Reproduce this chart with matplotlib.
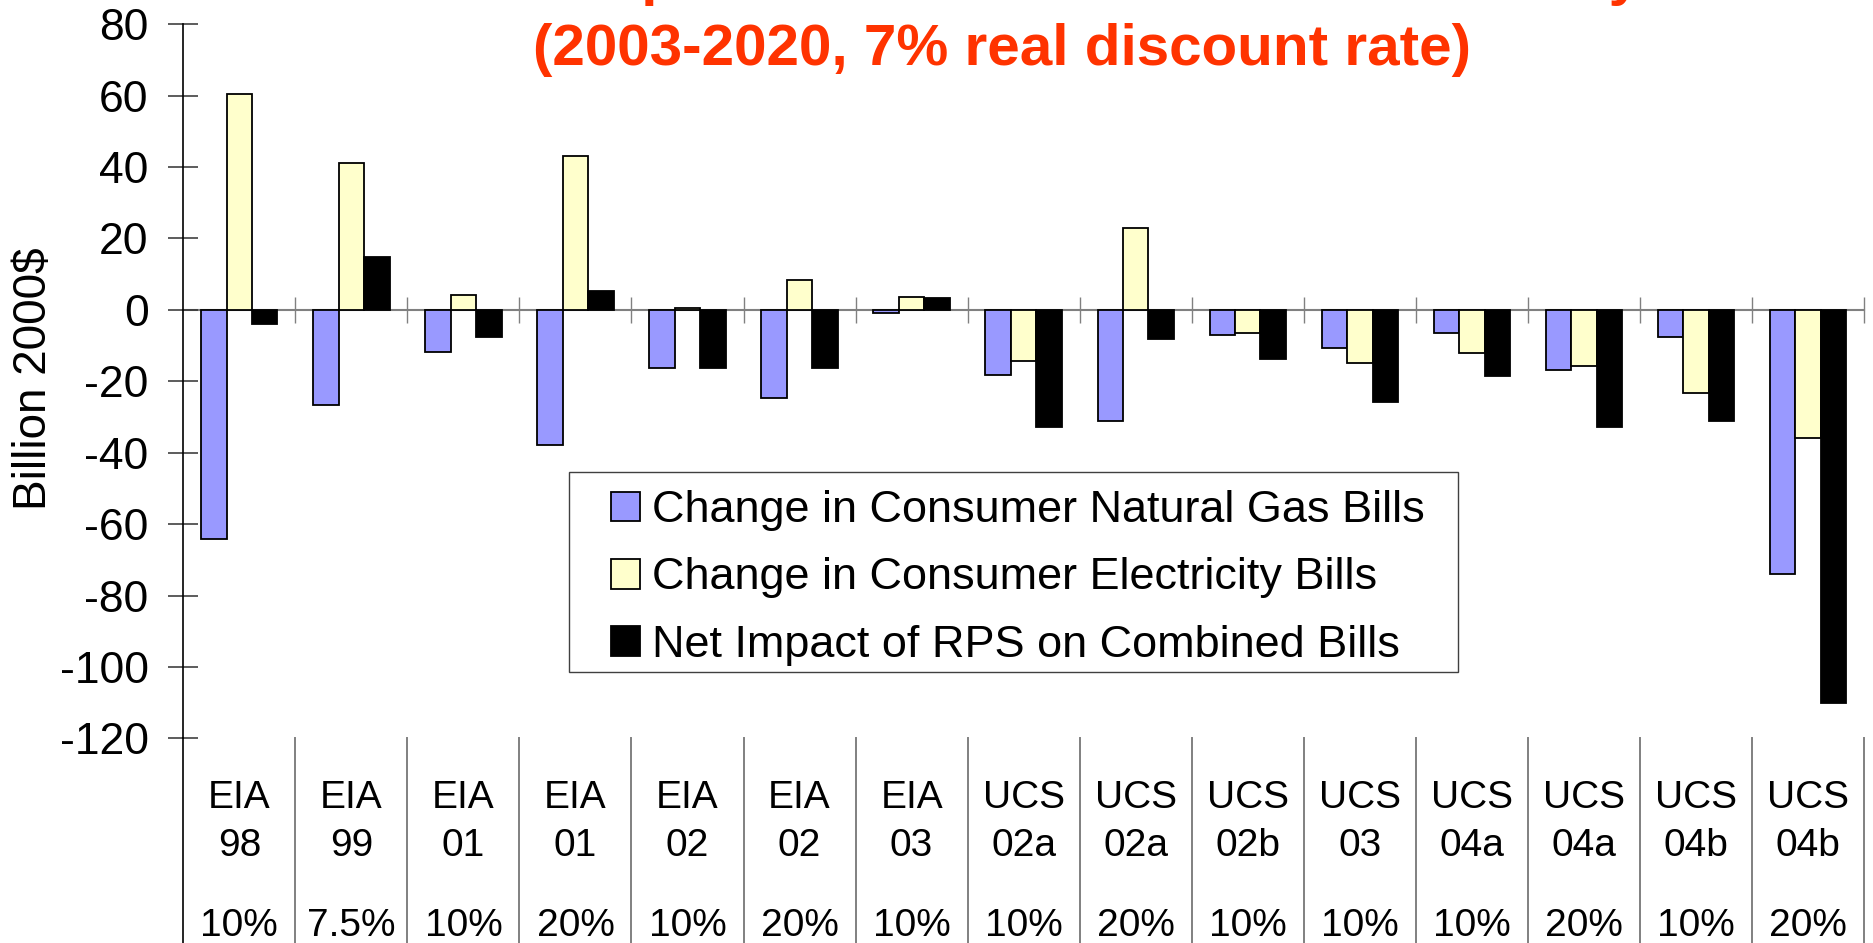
import numpy as np
import matplotlib
matplotlib.use("Agg")
import matplotlib.pyplot as plt
from matplotlib.patches import Rectangle, Patch
from matplotlib.transforms import blended_transform_factory

plt.rcParams['font.family'] = ['Liberation Sans', 'DejaVu Sans']
plt.rcParams['axes.unicode_minus'] = False

# ---- data ----
cat_source = ["EIA", "EIA", "EIA", "EIA", "EIA", "EIA", "EIA",
              "UCS", "UCS", "UCS", "UCS", "UCS", "UCS", "UCS", "UCS"]
cat_study = ["98", "99", "01", "01", "02", "02", "03",
             "02a", "02a", "02b", "03", "04a", "04a", "04b", "04b"]
cat_target = ["10%", "7.5%", "10%", "20%", "10%", "20%", "10%",
              "10%", "20%", "10%", "10%", "10%", "20%", "10%", "20%"]
gas = [-64.2, -26.6, -11.7, -37.9, -16.2, -24.6, -0.75,
       -18.2, -31.0, -7.0, -10.8, -6.4, -16.8, -7.6, -73.9]
elec = [60.4, 41.1, 4.1, 43.0, 0.4, 8.4, 3.6,
        -14.4, 22.9, -6.5, -15.0, -12.0, -15.6, -23.2, -36.0]
net = [-4.0, 14.8, -7.7, 5.4, -16.2, -16.2, 3.4,
       -32.8, -8.1, -13.8, -25.9, -18.6, -32.8, -31.1, -110.0]
series_labels = ["Change in Consumer Natural Gas Bills",
                 "Change in Consumer Electricity Bills",
                 "Net Impact of RPS on Combined Bills"]
title_line1 = "Consumer Impacts on Natural Gas and Electricity Bills"
title_line2 = "(2003-2020, 7% real discount rate)"
y_label = "Billion 2000$"
y_ticks = [80, 60, 40, 20, 0, -20, -40, -60, -80, -100, -120]

# ---- figure ----
W, H = 1874, 943
fig = plt.figure(figsize=(W / 100, H / 100), dpi=100)
ax_left, ax_right = 183.3 / W, 1864.0 / W
ax_top, ax_bot = 1 - 24.3 / H, 1 - 738.3 / H
ax = fig.add_axes([ax_left, ax_bot, ax_right - ax_left, ax_top - ax_bot])

colors = ['#9999FF', '#FFFFCC', '#000000']
n = len(cat_study)
x = np.arange(n)
w = 0.227
for i, (vals, c) in enumerate(zip([gas, elec, net], colors)):
    ax.bar(x + (i - 1) * w, vals, w, color=c, edgecolor='black',
           linewidth=1.3, zorder=2)

ax.set_xlim(-0.5, n - 0.5)
ax.set_ylim(-120, 80)
ax.set_yticks(y_ticks)
ax.tick_params(axis='y', direction='inout', length=20.9, width=1.1,
               color='#303030', pad=14.5, labelsize=32)

# zero line as bottom spine
for s in ['top', 'right']:
    ax.spines[s].set_visible(False)
ax.spines['bottom'].set_position(('data', 0))
ax.spines['bottom'].set_color('#808080')
ax.spines['bottom'].set_linewidth(1.5)
ax.spines['bottom'].set_zorder(1)
ax.spines['left'].set_color('black')
ax.spines['left'].set_linewidth(1.2)
bounds = np.arange(n + 1) - 0.5
ax.set_xticks(bounds[1:])
ax.tick_params(axis='x', direction='inout', length=18.7, width=1.0,
               color='#808080', labelbottom=False)

# category separators below the axes
trans = blended_transform_factory(ax.transData, fig.transFigure)
for j, b in enumerate(bounds):
    ax.plot([b, b], [0, ax_bot], transform=trans, clip_on=False,
            color='black' if j == 0 else '#808080',
            lw=1.2 if j == 0 else 1.4)

# category labels
for i in range(n):
    ax.text(x[i], 1 - 808.5 / H, cat_source[i], transform=trans,
            ha='center', va='baseline', fontsize=28)
    ax.text(x[i], 1 - 856.5 / H, cat_study[i], transform=trans,
            ha='center', va='baseline', fontsize=28)
    ax.text(x[i], 1 - 936.0 / H, cat_target[i], transform=trans,
            ha='center', va='baseline', fontsize=28)

# y label
fig.text(34 / W, 1 - 379 / H, y_label, rotation=90, ha='center',
         va='center', fontsize=33)

# titles (first line sits above the top edge, as in the reference)
fig.text(268 / W, 1 + 6 / H, title_line1, ha='left', va='baseline',
         fontsize=42, fontweight='bold', color='#FF3300')
fig.text(1002 / W, 1 - 65 / H, title_line2, ha='center', va='baseline',
         fontsize=42, fontweight='bold', color='#FF3300')

# legend frame + legend
fig.patches.append(Rectangle((569 / W, 1 - 672 / H), (1458 - 569) / W,
                             200 / H, transform=fig.transFigure,
                             facecolor='white', edgecolor='#404040',
                             linewidth=1.0, zorder=5))
handles = [Patch(facecolor=c, edgecolor='black', linewidth=1.3)
           for c in colors]
leg = fig.legend(handles, series_labels, loc='center left',
                 bbox_to_anchor=(611 / W, 1 - 578 / H),
                 bbox_transform=fig.transFigure, frameon=False,
                 fontsize=32.4, handlelength=0.64, handleheight=0.64,
                 handletextpad=0.27, labelspacing=0.58, borderpad=0,
                 borderaxespad=0)
leg.set_zorder(6)

fig.savefig("out.png", dpi=100)
